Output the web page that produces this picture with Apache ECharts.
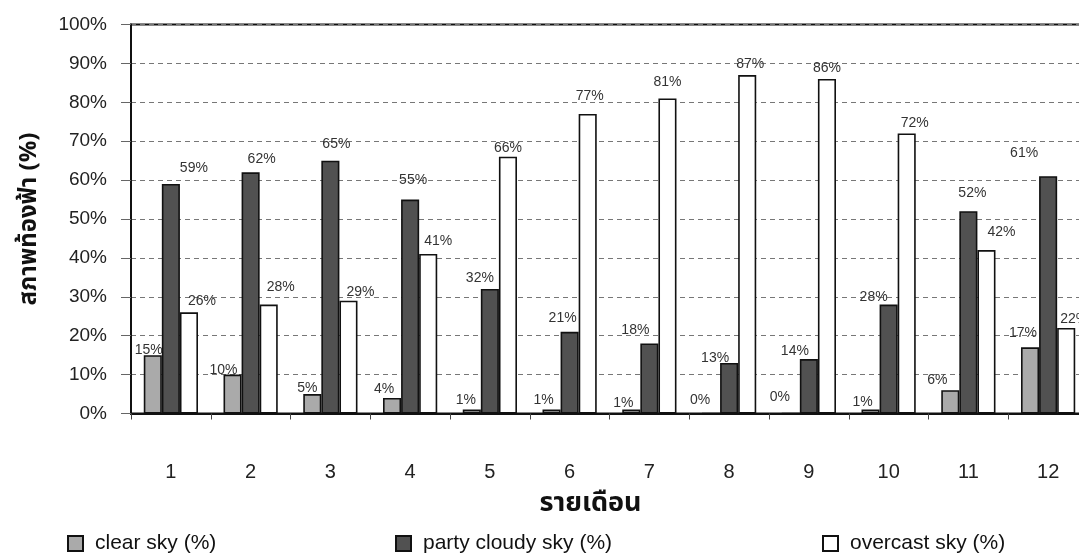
<!DOCTYPE html>
<html>
<head>
<meta charset="utf-8">
<script src="https://cdn.jsdelivr.net/npm/echarts@6/dist/echarts.min.js"></script>
<style>
  html, body { margin: 0; padding: 0; background: #ffffff; overflow: hidden; }
  #chart { width: 1096px; height: 555px; }
</style>
</head>
<body>
<div id="chart"></div>
<script>
// Monthly sky condition shares (%)
const months = ['1', '2', '3', '4', '5', '6', '7', '8', '9', '10', '11', '12'];
const clearSky = [15, 10, 5, 4, 1, 1, 1, 0, 0, 1, 6, 17];
const partlyCloudy = [59, 62, 65, 55, 32, 21, 18, 13, 14, 28, 52, 61];
const overcastSky = [26, 28, 29, 41, 66, 77, 81, 87, 86, 72, 42, 22];
const seriesNames = ['clear sky (%)', 'party cloudy sky (%)', 'overcast sky (%)'];

// Hand-placed value label nudges [dx, dy] in pixels, per month
const clearNudge = [[-4, 6], [-9, 7], [-5, 5], [-8, 2], [-6, 2], [-8, 2], [-8, 5], [-11, -2], [-11, -5], [-8, 4], [-13, 1], [-7, -3]];
const cloudyNudge = [[23, -5], [11, -2], [6, -6], [3, -8], [-10, 0], [-7, -3], [-14, -2], [-14, 6], [-14, 3], [-15, 4], [4, -7], [-24, -12]];
const overcastNudge = [[13, 0], [12, -6], [12, 2], [10, -2], [0, 2], [2, -7], [0, -5], [3, 0], [0, 0], [8, 1], [15, -7], [8, 2]];

const FONT = '"Liberation Sans", Arial, "Noto Sans", sans-serif';
const THAI_FONT = '"Noto Sans Thai", "Noto Sans", "DejaVu Sans", "Liberation Sans", sans-serif';

function withLabels(values, nudges) {
  return values.map((v, i) => ({ value: v, label: { offset: nudges[i] } }));
}

function barSeries(name, values, nudges, fill) {
  return {
    name: name,
    type: 'bar',
    data: withLabels(values, nudges),
    barGap: '0%',
    barCategoryGap: '32%',
    itemStyle: { color: fill, borderColor: '#111111', borderWidth: 1.6 },
    label: {
      show: true,
      position: 'top',
      distance: 4,
      formatter: '{c}%',
      fontFamily: FONT,
      fontSize: 14,
      color: '#333333'
    },
    emphasis: { disabled: true }
  };
}

function legendAt(left, name) {
  return {
    left: left,
    top: 528,
    data: [name],
    icon: 'rect',
    itemWidth: 15,
    itemHeight: 15,
    itemGap: 0,
    textStyle: { fontFamily: FONT, fontSize: 21, color: '#111111', padding: [0, 0, 0, 7] },
    selectedMode: false
  };
}

const chart = echarts.init(document.getElementById('chart'), null, { renderer: 'canvas' });

chart.setOption({
  backgroundColor: '#ffffff',
  animation: false,
  grid: {
    left: 131,
    top: 24.5,
    width: 957,
    height: 389,
    show: true,
    borderColor: '#111111',
    borderWidth: 2,
    backgroundColor: 'transparent'
  },
  legend: [
    legendAt(62, seriesNames[0]),
    legendAt(390, seriesNames[1]),
    legendAt(817, seriesNames[2])
  ],
  xAxis: {
    type: 'category',
    data: months,
    name: 'รายเดือน',
    nameLocation: 'middle',
    nameGap: 79,
    nameTextStyle: {
      fontFamily: THAI_FONT,
      fontSize: 27,
      fontWeight: 'bold',
      color: '#111111',
      padding: [0, 38, 0, 0]
    },
    axisLine: { show: true, lineStyle: { color: '#111111', width: 2 } },
    axisTick: { show: true, alignWithLabel: false, length: 6, lineStyle: { color: '#444444' } },
    axisLabel: { fontFamily: FONT, fontSize: 20, color: '#222222', margin: 49 },
    splitLine: { show: false }
  },
  yAxis: {
    type: 'value',
    min: 0,
    max: 100,
    interval: 10,
    name: 'สภาพท้องฟ้า (%)',
    nameLocation: 'middle',
    nameGap: 88,
    nameTextStyle: {
      fontFamily: THAI_FONT,
      fontSize: 24,
      fontWeight: 'bold',
      color: '#111111'
    },
    axisLine: { show: true, lineStyle: { color: '#111111', width: 2 } },
    axisTick: { show: true, inside: false, length: 10, lineStyle: { color: '#666666' } },
    axisLabel: { formatter: '{value}%', fontFamily: FONT, fontSize: 19, color: '#222222', margin: 24 },
    splitLine: { show: true, lineStyle: { color: '#777777', width: 1, type: [5, 4] } }
  },
  series: [
    barSeries(seriesNames[0], clearSky, clearNudge, '#aaaaaa'),
    barSeries(seriesNames[1], partlyCloudy, cloudyNudge, '#515151'),
    barSeries(seriesNames[2], overcastSky, overcastNudge, '#ffffff')
  ]
});
</script>
</body>
</html>
